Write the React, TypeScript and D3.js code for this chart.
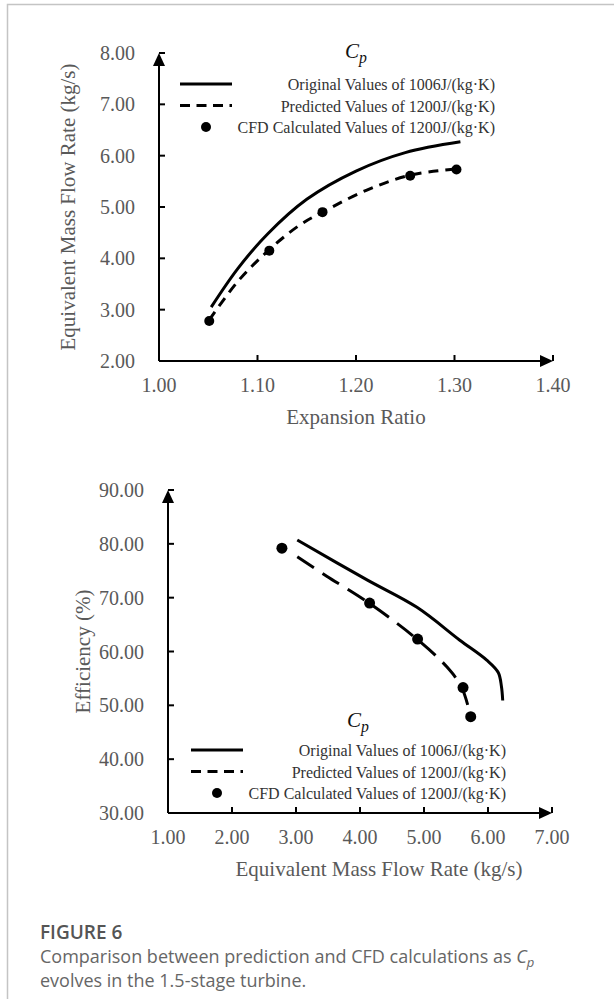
import * as d3 from "d3";
import React from "react";

// ---- data ----
const erTicks = [1.0, 1.1, 1.2, 1.3, 1.4];
const mfTicks = [2, 3, 4, 5, 6, 7, 8];
const mfTicks2 = [1, 2, 3, 4, 5, 6, 7];
const effTicks = [30, 40, 50, 60, 70, 80, 90];

const legendLabels = [
  "Original Values of 1006J/(kg·K)",
  "Predicted Values of 1200J/(kg·K)",
  "CFD Calculated Values of 1200J/(kg·K)",
];

// top panel: expansion ratio -> mass flow
const origER = [1.053, 1.08, 1.11, 1.15, 1.2, 1.25, 1.306];
const origMF = [3.05, 3.8, 4.47, 5.15, 5.7, 6.06, 6.27];
const predER = [1.051, 1.08, 1.112, 1.143, 1.166, 1.211, 1.255, 1.301];
const predMF = [2.8, 3.55, 4.17, 4.65, 4.9, 5.33, 5.62, 5.74];
const cfdER = [1.051, 1.112, 1.166, 1.255, 1.302];
const cfdMF = [2.78, 4.15, 4.9, 5.61, 5.73];

// bottom panel: mass flow -> efficiency
const origMF2 = [3.02, 4.11, 4.89, 5.56, 5.98, 6.16, 6.21, 6.23];
const origEff = [80.7, 73.3, 68.2, 62.1, 58.4, 56.1, 53.5, 50.9];
const predMF2 = [3.02, 3.48, 4.14, 4.89, 5.36, 5.59, 5.73];
const predEff = [77.6, 74.0, 69.0, 62.3, 57.1, 53.3, 47.9];
const cfdEff = [79.2, 69.0, 62.3, 53.3, 47.9];

const serif = "'Liberation Serif', 'Times New Roman', serif";
const sans = "'Open Sans', 'Noto Sans', sans-serif";
const tickGray = "#595959";

const zip = (a: number[], b: number[]) => a.map((v, i) => [v, b[i]] as [number, number]);

function Cp({ x, y, size }: { x: number; y: number; size: number }) {
  return (
    <text x={x} y={y} fontFamily={serif} fontStyle="italic" fontSize={size} fill="#111">
      C
      <tspan dy={size * 0.22} fontSize={size * 0.75}>p</tspan>
    </text>
  );
}

function Legend({ x, y, right, cpX, cpY, dash }: any) {
  const rows = [0, 1, 2].map((i) => y + i * 21.5);
  return (
    <g>
      <Cp x={cpX} y={cpY} size={21} />
      <line x1={x} x2={x + 52} y1={rows[0]} y2={rows[0]} stroke="#000" strokeWidth={3} />
      <line x1={x} x2={x + 52} y1={rows[1]} y2={rows[1]} stroke="#000" strokeWidth={3} strokeDasharray={dash} />
      <circle cx={x + 26} cy={rows[2]} r={5} fill="#000" />
      {legendLabels.map((t, i) => (
        <text key={t} x={right} y={rows[i] + 6} textAnchor="end" fontFamily={serif} fontSize={16} fill="#333">
          {t}
        </text>
      ))}
    </g>
  );
}

function Panel(props: any) {
  const { xs, ys, xTicks, yTicks, xFmt, yFmt, xTitle, xTitleX, yTitle, yTitleX, orig, pred, cfd, predDash, dotR } = props;
  const [x0, x1] = xs.range();
  const [y0, y1] = ys.range();
  const curve = d3.curveCatmullRom.alpha(0.5);
  const path = d3
    .line<[number, number]>()
    .x((d) => xs(d[0]))
    .y((d) => ys(d[1]))
    .curve(curve);
  return (
    <g>
      {/* curves */}
      <path d={path(orig) || ""} fill="none" stroke="#000" strokeWidth={3} />
      <path d={path(pred) || ""} fill="none" stroke="#000" strokeWidth={3} strokeDasharray={predDash} />
      {cfd.map((d: [number, number], i: number) => (
        <circle key={i} cx={xs(d[0])} cy={ys(d[1])} r={dotR} fill="#000" />
      ))}

      {/* axes */}
      <line x1={x0} x2={x0} y1={y0} y2={y1 + 6} stroke="#000" strokeWidth={2} />
      <line x1={x0} x2={x1 - 6} y1={y0} y2={y0} stroke="#000" strokeWidth={2} />
      <polygon points={`${x0},${y1} ${x0 - 6},${y1 + 13} ${x0 + 6},${y1 + 13}`} fill="#000" />
      <polygon points={`${x1},${y0} ${x1 - 13},${y0 - 6} ${x1 - 13},${y0 + 6}`} fill="#000" />
      {yTicks.map((t: number) => (
        <g key={t}>
          <line x1={x0} x2={x0 + 6} y1={ys(t)} y2={ys(t)} stroke="#000" strokeWidth={2} />
          <text x={x0 - 24} y={ys(t) + 7} textAnchor="end" fontFamily={serif} fontSize={20} fill={tickGray}>
            {yFmt(t)}
          </text>
        </g>
      ))}
      {xTicks.map((t: number) => (
        <g key={t}>
          {t !== xTicks[0] && (
            <line x1={xs(t)} x2={xs(t)} y1={y0} y2={y0 - 6} stroke="#000" strokeWidth={2} />
          )}
          <text x={xs(t)} y={y0 + 31} textAnchor="middle" fontFamily={serif} fontSize={20} fill={tickGray}>
            {xFmt(t)}
          </text>
        </g>
      ))}
      <text x={xTitleX} y={y0 + 63} textAnchor="middle" fontFamily={serif} fontSize={21} fill={tickGray}>
        {xTitle}
      </text>
      <text
        transform={`translate(${yTitleX},${(y0 + y1) / 2}) rotate(-90)`}
        textAnchor="middle"
        fontFamily={serif}
        fontSize={21}
        fill={tickGray}
      >
        {yTitle}
      </text>
    </g>
  );
}

export default function App() {
  const W = 614;
  const H = 999;

  const xTop = d3.scaleLinear().domain([1.0, 1.4]).range([159, 553]);
  const yTop = d3.scaleLinear().domain([2, 8]).range([361, 53]);
  const xBot = d3.scaleLinear().domain([1, 7]).range([168, 552]);
  const yBot = d3.scaleLinear().domain([30, 90]).range([813, 490]);
  const f2 = d3.format(".2f");

  return (
    <svg width={W} height={H} style={{ position: "absolute", left: 0, top: 0, background: "#fff" }}>
      <rect width={W} height={H} fill="#fff" />
      <path d={`M7.5,${H} V4.5 H${W}`} fill="none" stroke="#c4c4c4" strokeWidth={1.5} />

      <Panel
        xs={xTop}
        ys={yTop}
        xTicks={erTicks}
        yTicks={mfTicks}
        xFmt={f2}
        yFmt={f2}
        xTitle="Expansion Ratio"
        xTitleX={356}
        yTitle="Equivalent Mass Flow Rate (kg/s)"
        yTitleX={75}
        orig={zip(origER, origMF)}
        pred={zip(predER, predMF)}
        cfd={zip(cfdER, cfdMF)}
        predDash="10,7"
        dotR={5}
      />
      <Legend x={180} y={84} right={495} cpX={345} cpY={58} dash="10,6.5" />

      <Panel
        xs={xBot}
        ys={yBot}
        xTicks={mfTicks2}
        yTicks={effTicks}
        xFmt={f2}
        yFmt={f2}
        xTitle="Equivalent Mass Flow Rate (kg/s)"
        xTitleX={379}
        yTitle="Efficiency (%)"
        yTitleX={90}
        orig={zip(origMF2, origEff)}
        pred={zip(predMF2, predEff)}
        cfd={zip(cfdMF, cfdEff)}
        predDash="20,10"
        dotR={5.5}
      />
      <Legend x={191} y={750} right={506} cpX={347} cpY={727} dash="10,6.5" />

      <text x={40} y={939} fontFamily={sans} fontWeight={600} fontSize={19} fill="#555">
        FIGURE 6
      </text>
      <text x={40} y={963} fontFamily={sans} fontSize={18} fill="#666">
        Comparison between prediction and CFD calculations as{" "}
        <tspan fontStyle="italic">C</tspan>
        <tspan fontStyle="italic" fontSize={13} dy={4}>p</tspan>
      </text>
      <text x={40} y={987} fontFamily={sans} fontSize={18} fill="#666">
        evolves in the 1.5-stage turbine.
      </text>
    </svg>
  );
}
